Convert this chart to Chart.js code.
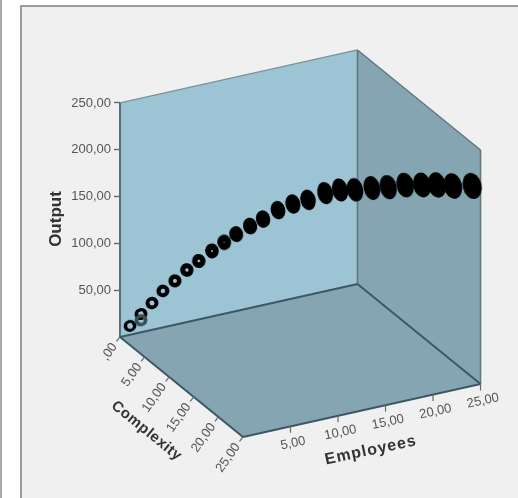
<!DOCTYPE html>
<html><head><meta charset="utf-8">
<style>html,body{margin:0;padding:0;background:#fff}canvas{display:block;filter:blur(.7px)}</style>
<script src="https://cdn.jsdelivr.net/npm/chart.js@4"></script></head>
<body><canvas id="c" width="518" height="498"></canvas>
<script>
const employees=[1,2,3,4,5,6,7,8,9,10,11,12,13,14,15,16,17,18,19,20,21,22,23,24,25];
const complexity=[0.1,0.4,0.7,1,1.5,2,2.5,3.25,3.8,4.3,5.2,5.9,7,8.1,9.25,10.8,11.9,13,14.5,15.9,17.4,18.9,20,21.3,23.3];
const output=[10,21.7,32.5,44.4,55,66.5,76,87.7,97,105.6,115.8,124,136,145,152,163.6,169.4,172,178,182.7,189,193.3,195.8,198,204.3];
const overlapEmployees=[2];
const overlapComplexity=[0.4];
const overlapOutput=[15];
const employeeTicks=[5,10,15,20,25];
const complexityTicks=[0,5,10,15,20,25];
const outputTicks=[50,100,150,200,250];
const fmt=v=>v===0?',00':v.toFixed(2).replace('.',',');
const KX=0.518,KY=2.265,KZ=4.274;
const px=(e,c)=>e+c*KX;
const py=(e,c,o)=>o+e*KY-c*KZ;
const points=(E,C,O)=>E.map((e,i)=>({x:px(e,C[i]),y:py(e,C[i],O[i]),c:C[i]}));
const FONT='"Liberation Sans",Arial,sans-serif';
function sprite(c,color){
  const rx=6.4+c*0.13,ry=Math.min(5.8+c*0.5,10+c*0.14),hole=Math.max(0,2.9-c*0.6);
  const S=40,cv=document.createElement('canvas');cv.width=S;cv.height=S;
  const g=cv.getContext('2d');g.translate(S/2,S/2);g.rotate(-0.22);
  g.fillStyle=color;g.beginPath();g.ellipse(0,0,rx,ry,0,0,Math.PI*2);g.fill();
  if(hole>0){g.globalCompositeOperation='destination-out';g.beginPath();g.ellipse(0,0,hole,hole,0,0,Math.PI*2);g.fill();}
  return cv;
}
const box3d={
  id:'box3d',
  beforeDraw(ch){
    const g=ch.ctx;
    g.save();
    g.fillStyle='#fff';g.fillRect(0,0,518,498);
    g.fillStyle='#a8a8a8';g.fillRect(0,0,2,498);
    g.fillStyle='#f0f0f0';g.fillRect(21,6,497,492);
    g.fillStyle='#9c9c9c';g.fillRect(20,5,498,2);g.fillRect(20,5,2,493);
    g.restore();
  },
  beforeDatasetsDraw(ch){
    const g=ch.ctx,X=ch.scales.x,Y=ch.scales.y;
    const M=25,H=250;
    const P=(e,c,o)=>[X.getPixelForValue(px(e,c)),Y.getPixelForValue(py(e,c,o))];
    const poly=(pts,fill)=>{g.beginPath();pts.forEach((p,i)=>i?g.lineTo(p[0],p[1]):g.moveTo(p[0],p[1]));g.closePath();g.fillStyle=fill;g.fill();};
    const seg=(a,b,col,w)=>{g.beginPath();g.moveTo(a[0],a[1]);g.lineTo(b[0],b[1]);g.strokeStyle=col;g.lineWidth=w;g.stroke();};
    g.save();
    const a0=P(0,0,0),a1=P(0,0,H),b0=P(M,0,0),b1=P(M,0,H),d0=P(M,M,0),d1=P(M,M,H),f0=P(0,M,0);
    poly([a0,a1,b1,b0],'#9dc4d4');
    poly([b0,b1,d1,d0],'#85a5b2');
    poly([a0,b0,d0,f0],'#85a5b2');
    seg(a1,b1,'#7c8f97',1.2);
    seg(b1,d1,'#5f7681',1.4);
    seg(d0,d1,'#64777f',1.6);
    seg(b0,b1,'#5f7681',1.6);
    seg(a0,a1,'#5c6c74',2);
    seg(a0,b0,'#3c5866',2);
    seg(b0,d0,'#3c5866',2);
    seg(a0,f0,'#3c5866',2);
    seg(f0,d0,'#3c5866',2);
    g.fillStyle='#555';g.font='13px '+FONT;g.textBaseline='middle';
    complexityTicks.forEach(v=>{
      const p=P(0,v,0);
      seg(p,[p[0]-3.5,p[1]+4.5],'#666',1.2);
      g.save();g.translate(p[0]-5.5,p[1]+7.5);g.rotate(-55*Math.PI/180);g.textAlign='right';
      g.fillStyle='#555';g.fillText(fmt(v),0,0);g.restore();
    });
    employeeTicks.forEach(v=>{
      const p=P(v,M,0);
      seg(p,[p[0],p[1]+6.5],'#666',1.2);
      g.save();g.translate(p[0]+2.5,p[1]+17);g.rotate(-12*Math.PI/180);g.textAlign='center';
      g.fillStyle='#555';g.fillText(fmt(v),0,0);g.restore();
    });
    g.fillStyle='#333';g.font='bold 15px '+FONT;g.letterSpacing='0.5px';g.textAlign='center';
    const cc=P(0,12.5,0);
    g.save();g.translate(cc[0]-35,cc[1]+44);g.rotate(39*Math.PI/180);g.fillText('Complexity',0,0);g.restore();
    const ec=P(12.5,M,0);
    g.font='bold 16px '+FONT;g.letterSpacing='1px';
    g.save();g.translate(ec[0]+9,ec[1]+40);g.rotate(-12*Math.PI/180);g.fillText('Employees',0,0);g.restore();
    g.letterSpacing='0px';
    g.restore();
  }
};
new Chart(document.getElementById('c'),{
  type:'scatter',
  data:{datasets:[
    {label:'overlap',data:points(overlapEmployees,overlapComplexity,overlapOutput),clip:false,
     pointStyle:c=>sprite(c.raw.c,'#3d4d54')},
    {label:'Output',data:points(employees,complexity,output),clip:false,
     pointStyle:c=>sprite(c.raw.c,'#000')}
  ]},
  plugins:[box3d],
  options:{
    responsive:false,animation:false,
    layout:{autoPadding:false,padding:{left:40,right:18,top:0,bottom:60}},
    plugins:{legend:{display:false},tooltip:{enabled:false}},
    scales:{
      x:{type:'linear',min:0,max:40,display:false},
      y:{type:'linear',min:-108,max:360,
        afterFit(s){s.width=80;s.paddingTop=0;s.paddingBottom=0;},
        afterBuildTicks(s){s.ticks=outputTicks.map(v=>({value:v}));},
        border:{display:false},
        grid:{drawOnChartArea:false,drawTicks:true,tickLength:6,tickWidth:1.4,tickColor:'#666'},
        ticks:{padding:3,color:'#555',font:{family:FONT,size:13},maxRotation:0,autoSkip:false,callback:v=>fmt(v)},
        title:{display:true,text:'Output',color:'#333',font:{family:FONT,size:17,weight:'bold'},padding:{top:6,bottom:0}}
      }
    }
  }
});
</script></body></html>
